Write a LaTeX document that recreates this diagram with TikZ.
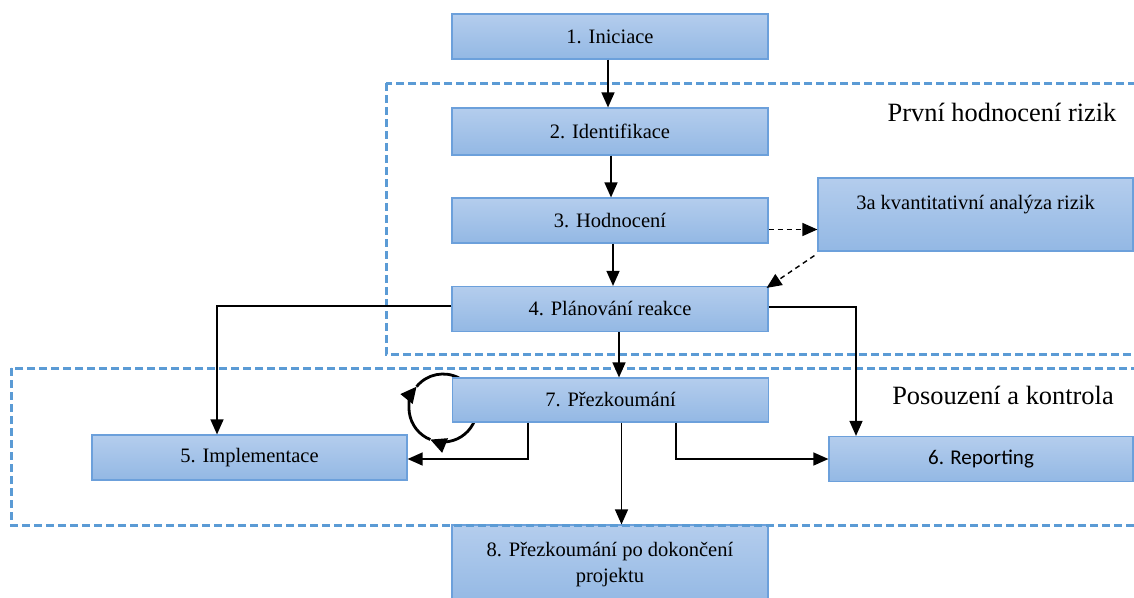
\documentclass[tikz,border=0pt]{standalone}
\usepackage{fontspec}
\setmainfont{Liberation Serif}
\newfontfamily\calfont{Carlito}
\usetikzlibrary{arrows.meta,calc}
\definecolor{boxtop}{RGB}{180,205,237}
\definecolor{boxbot}{RGB}{147,184,228}
\definecolor{boxline}{RGB}{108,160,219}
\definecolor{zone}{RGB}{91,155,213}
\begin{document}
\begin{tikzpicture}[x=1pt,y=-1pt,
  stepbox/.style={draw=boxline, line width=1.2pt, top color=boxtop, bottom color=boxbot,
    minimum width=316pt, minimum height=45pt, inner sep=0pt, align=center,
    font=\rmfamily\fontsize{20.5}{24}\selectfont},
  link/.style={line width=1.4pt, -{Triangle[length=15pt 0,width=13pt 0]}},
  optlink/.style={link, dash pattern=on 5pt off 4pt},
  zonebox/.style={draw=zone, line width=3pt, dash pattern=on 8pt off 4pt},
  zonelabel/.style={font=\rmfamily\fontsize{26.4}{30}\selectfont},
  cyclearc/.style={line width=2.8pt},
  cyclehead/.style={cyclearc, -{Triangle[length=16pt 0,width=15pt 0]}}]
\useasboundingbox (0,0) rectangle (1134,597);
\clip (0,0) rectangle (1134,597);

% review loop beside step 7 (drawn first, the box hides its ends)
\coordinate (loopc) at (443,408);
\draw[cyclehead] ($(loopc)+(-20:34pt)$) arc[start angle=-20, end angle=-112, radius=34pt];
\draw[cyclehead] ($(loopc)+(-112:34pt)$) arc[start angle=-112, end angle=-219, radius=34pt];
\draw[cyclearc] ($(loopc)+(-219:34pt)$) arc[start angle=-219, end angle=-298, radius=34pt];

% process steps
\node[stepbox] (n1) at (610,36.5) {1. Iniciace};
\node[stepbox, minimum height=47pt] (n2) at (610,131.5) {2. Identifikace};
\node[stepbox] (n3) at (610,220.5) {3. Hodnocení};
\node[stepbox, minimum width=315pt, minimum height=73pt] (n3a) at (975.5,214.5)
  {3a kvantitativní analýza rizik\\ ~};
\node[stepbox] (n4) at (610,309) {4. Plánování reakce};
\node[stepbox, minimum height=44pt] (n7) at (610.5,400) {7. Přezkoumání};
\node[stepbox, minimum width=315pt] (n5) at (249.5,457.5) {5. Implementace};
\node[stepbox, minimum width=304pt, font=\calfont\fontsize{21}{24}\selectfont] (n6) at (981,459) {6. Reporting};
\node[stepbox, minimum height=80pt, font=\rmfamily\fontsize{20.5}{26}\selectfont] (n8) at (610,565)
  {8. Přezkoumání po dokončení\\projektu};

% phase zones
\draw[zonebox] (386,83) rectangle (1150,354);
\draw[zonebox] (11,368) rectangle (1150,525);
\node[zonelabel] (z1) at (1002,112) {První hodnocení rizik};
\node[zonelabel] (z2) at (1003,395) {Posouzení a kontrola};

% flow
\draw[link] ($(n1.south)+(-2,0)$) -- ($(n2.north)+(-2,0)$);
\draw[link] ($(n2.south)+(1,0)$) -- ($(n3.north)+(1,0)$);
\draw[link] ($(n3.south)+(3,0)$) -- ($(n4.north)+(3,0)$);
\draw[optlink] ($(n3.east)+(0,9)$) -- ($(n3.east -| n3a.west)+(0,9)$);
\draw[optlink] ($(n3a.south west)+(-3,4)$) -- ($(n4.north east)+(-2,2)$);
\draw[link] ($(n4.south)+(9,0)$) -- ($(n7.north)+(8.5,0)$);
\draw[link] ($(n4.west)+(0,-3)$) -| ($(n5.north)+(-32.5,0)$);
\draw[link] ($(n4.east)+(0,-2)$) -| ($(n6.north)+(-125,0)$);
\draw[link] ($(n7.south)+(-82.5,0)$) |- ($(n5.east)+(0,1.5)$);
\draw[link] ($(n7.south)+(65.5,0)$) |- (n6.west);
\draw[link] ($(n7.south)+(11,0)$) -- ($(n8.north)+(11.5,0)$);
\end{tikzpicture}
\end{document}
